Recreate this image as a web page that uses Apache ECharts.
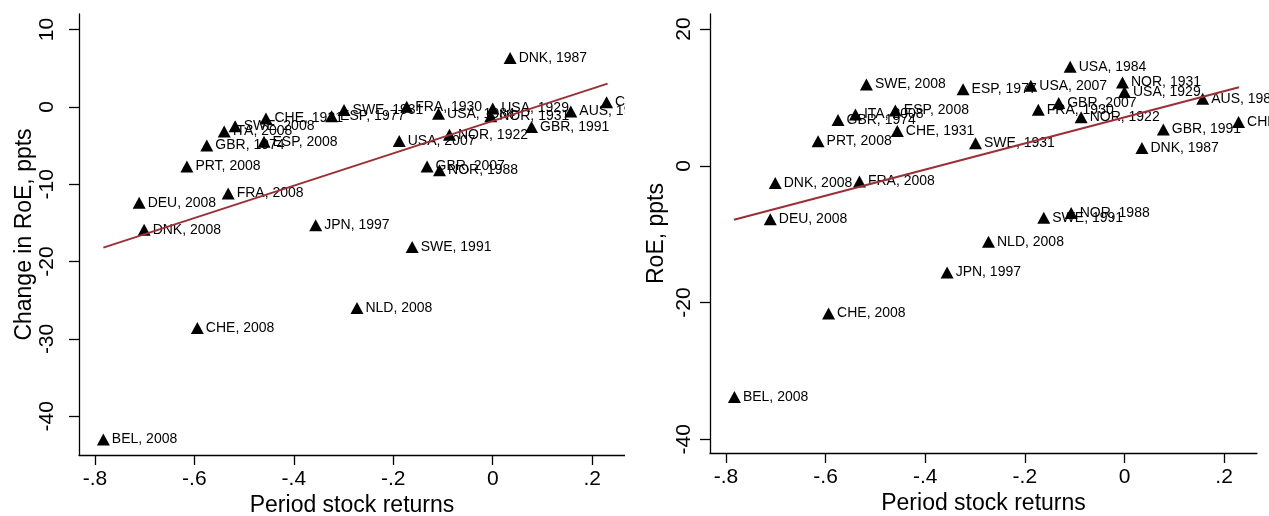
<!DOCTYPE html>
<html>
<head>
<meta charset="utf-8">
<script src="https://cdn.jsdelivr.net/npm/echarts@6/dist/echarts.min.js"></script>
<style>
  html, body { margin: 0; padding: 0; background: #fff; }
  #wrap { position: relative; width: 1269px; height: 516px; overflow: hidden; }
  #left { position: absolute; left: 0; top: 0; width: 625px; height: 516px; }
  #right { position: absolute; left: 626px; top: 0; width: 643px; height: 516px; }
</style>
</head>
<body>
<div id="wrap"><div id="left"></div><div id="right"></div></div>
<script>
// ---- data ----
const countries = [
  'BEL, 2008', 'CHE, 2008', 'NLD, 2008', 'SWE, 1991', 'JPN, 1997', 'DNK, 2008', 'DEU, 2008',
  'FRA, 2008', 'PRT, 2008', 'GBR, 1974', 'ITA, 2008', 'SWE, 2008', 'CHE, 1931', 'ESP, 2008',
  'ESP, 1977', 'SWE, 1931', 'FRA, 1930', 'USA, 2007', 'USA, 1984', 'USA, 1929', 'NOR, 1931',
  'AUS, 1989', 'CHE, 1991', 'GBR, 1991', 'NOR, 1922', 'GBR, 2007', 'NOR, 1988', 'DNK, 1987'
];
const stockReturns = [
  -0.783, -0.594, -0.273, -0.162, -0.356, -0.701, -0.711,
  -0.532, -0.615, -0.575, -0.540, -0.518, -0.456, -0.460,
  -0.324, -0.299, -0.173, -0.188, -0.109, 0.000, -0.004,
  0.157, 0.229, 0.078, -0.087, -0.132, -0.107, 0.035
];
const changeInRoE = [
  -43.0, -28.6, -26.0, -18.1, -15.3, -15.9, -12.4,
  -11.2, -7.7, -5.0, -3.2, -2.5, -1.5, -4.5,
  -1.2, -0.4, 0.0, -4.4, -0.9, -0.2, -1.2,
  -0.6, 0.6, -2.6, -3.6, -7.7, -8.2, 6.3
];
const levelRoE = [
  -33.8, -21.6, -11.1, -7.6, -15.6, -2.5, -7.8,
  -2.3, 3.6, 6.7, 7.5, 11.9, 5.1, 8.1,
  11.2, 3.3, 8.2, 11.7, 14.5, 10.8, 12.2,
  9.8, 6.4, 5.3, 7.1, 9.2, -6.9, 2.6
];
// fitted lines (end points)
const fitLeftX = [-0.783, 0.231];
const fitLeftY = [-18.2, 3.0];
const fitRightX = [-0.784, 0.230];
const fitRightY = [-7.9, 11.5];

const xTickValues = [-0.8, -0.6, -0.4, -0.2, 0, 0.2];
const xTickLabels = ['-.8', '-.6', '-.4', '-.2', '0', '.2'];
const leftYTicks = [-40, -30, -20, -10, 0, 10];
const rightYTicks = [-40, -20, 0, 20];

const xTitle = 'Period stock returns';
const leftYTitle = 'Change in RoE, ppts';
const rightYTitle = 'RoE, ppts';

// ---- chart building ----
const FONT = 'Liberation Sans, Arial, Helvetica, sans-serif';
const LINE_COLOR = '#9b2f36';

function buildOption(yVals, fitX, fitY, yMin, yMax, yTicks, yName, grid, yLabelMargin, yNameGap) {
  const pts = countries.map((c, i) => ({ name: c, value: [stockReturns[i], yVals[i]] }));
  const fit = fitX.map((x, i) => [x, fitY[i]]);
  const axisCommon = {
    axisLine: { show: true, onZero: false, lineStyle: { color: '#000', width: 1.3 } },
    splitLine: { show: false }
  };
  const tickStyle = { show: true, length: 10, lineStyle: { color: '#000', width: 1.3 } };
  return {
    animation: false,
    backgroundColor: '#fff',
    textStyle: { fontFamily: FONT },
    grid: Object.assign({ outerBoundsMode: 'none', containLabel: false }, grid),
    xAxis: Object.assign({
      type: 'value',
      min: -0.832, max: 0.266,
      name: xTitle, nameLocation: 'middle', nameGap: 39, nameMoveOverlap: false,
      nameTextStyle: { fontSize: 23, color: '#000', fontFamily: FONT },
      axisLabel: {
        fontSize: 21, color: '#000', margin: 14, fontFamily: FONT,
        customValues: xTickValues,
        formatter: v => {
          const k = xTickValues.findIndex(t => Math.abs(t - v) < 1e-9);
          return k >= 0 ? xTickLabels[k] : '';
        }
      },
      axisTick: Object.assign({ customValues: xTickValues }, tickStyle)
    }, axisCommon),
    yAxis: Object.assign({
      type: 'value',
      min: yMin, max: yMax,
      name: yName, nameLocation: 'middle', nameGap: yNameGap, nameRotate: 90, nameMoveOverlap: false,
      nameTextStyle: { fontSize: 23, color: '#000', fontFamily: FONT },
      axisLabel: {
        fontSize: 21, color: '#000', margin: yLabelMargin, rotate: 90, fontFamily: FONT,
        customValues: yTicks,
        formatter: v => String(v)
      },
      axisTick: Object.assign({ customValues: yTicks }, tickStyle)
    }, axisCommon),
    series: [
      {
        type: 'scatter',
        data: pts,
        symbol: 'triangle',
        symbolSize: [13, 12],
        itemStyle: { color: '#000', opacity: 1 },
        clip: false,
        label: {
          show: true, position: 'right', distance: 2,
          formatter: p => p.name,
          fontSize: 14, color: '#000', fontFamily: FONT
        },
        z: 2
      },
      {
        type: 'line',
        data: fit,
        symbol: 'none',
        lineStyle: { color: LINE_COLOR, width: 2 },
        z: 3
      }
    ]
  };
}

const chartL = echarts.init(document.getElementById('left'), null, { renderer: 'canvas' });
chartL.setOption(buildOption(changeInRoE, fitLeftX, fitLeftY, -45, 12, leftYTicks, leftYTitle,
  { left: 79, right: 0, top: 14, bottom: 61 }, 21, 43));

const chartR = echarts.init(document.getElementById('right'), null, { renderer: 'canvas' });
chartR.setOption(buildOption(levelRoE, fitRightX, fitRightY, -42, 22.2, rightYTicks, rightYTitle,
  { left: 84, right: 12, top: 14, bottom: 63 }, 15, 42));
</script>
</body>
</html>
